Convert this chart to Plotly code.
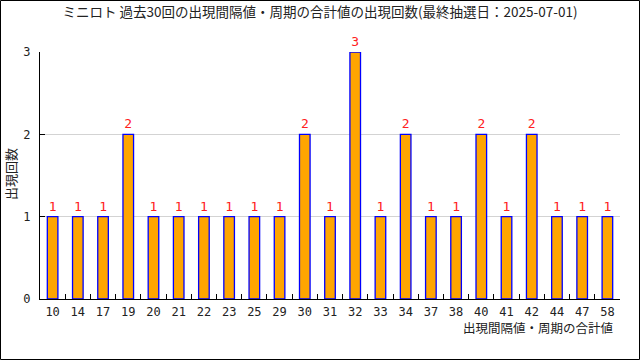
import plotly.graph_objects as go

categories = ["10", "14", "17", "19", "20", "21", "22", "23", "25", "29", "30", "31",
              "32", "33", "34", "37", "38", "40", "41", "42", "44", "47", "58"]
counts = [1, 1, 1, 2, 1, 1, 1, 1, 1, 1, 2, 1, 3, 1, 2, 1, 1, 2, 1, 2, 1, 1, 1]
title_text = "ミニロト 過去30回の出現間隔値・周期の合計値の出現回数(最終抽選日：2025-07-01)"
x_title = "出現間隔値・周期の合計値"
y_title = "出現回数"

W, H = 640, 360
ML, MR, MT, MB = 40, 20, 52, 61
PW, PH = W - ML - MR, H - MT - MB

font_jp = "Noto Sans CJK JP"
font_num = "DejaVu Sans Mono"

fig = go.Figure(go.Bar(
    x=categories, y=counts,
    width=0.42,
    marker=dict(color="#FFA500", line=dict(color="#0000FF", width=1.3)),
    text=[str(v) for v in counts], textposition="outside",
    textfont=dict(color="#FF2020", size=13, family=font_num),
    cliponaxis=False,
))

fig.update_layout(
    width=W, height=H,
    margin=dict(l=ML, r=MR, t=MT, b=MB, pad=0),
    paper_bgcolor="white", plot_bgcolor="white",
    showlegend=False,
    title=dict(text=title_text, x=0.5, xanchor="center", y=1 - 12 / H, yanchor="middle",
               font=dict(family=font_jp, size=13.5, color="#222")),
    xaxis=dict(type="category", tickson="boundaries", ticks="inside", ticklen=5,
               tickcolor="black", showline=True, linecolor="black", linewidth=1,
               ticklabelstandoff=2,
               showgrid=False, tickfont=dict(family=font_num, size=12, color="#222")),
    yaxis=dict(range=[0, 3], tickvals=[0, 1, 2, 3], ticks="inside", ticklen=5,
               tickcolor="black", showline=True, linecolor="black", linewidth=1,
               ticklabelstandoff=6,
               showgrid=True, gridcolor="#D3D3D3", zeroline=False,
               tickfont=dict(family=font_num, size=12, color="#222")),
    bargap=0.5,
)

fig.add_annotation(text=x_title, xref="paper", yref="paper",
                   x=(615 - ML) / PW, y=-(327 - (MT + PH)) / PH,
                   xanchor="right", yanchor="middle", showarrow=False,
                   font=dict(family=font_jp, size=12.5, color="#222"))
fig.add_annotation(text=y_title, xref="paper", yref="paper",
                   x=(10 - ML) / PW, y=(MT + PH - 174) / PH,
                   xanchor="center", yanchor="middle", showarrow=False, textangle=-90,
                   font=dict(family=font_jp, size=13, color="#222"))
fig.add_shape(type="rect", xref="paper", yref="paper",
              x0=-(ML - 0.5) / PW, x1=1 + (MR - 0.5) / PW,
              y0=-(MB - 0.5) / PH, y1=1 + (MT - 0.5) / PH,
              line=dict(color="black", width=1), fillcolor="rgba(0,0,0,0)")

fig.write_html("out.html")
